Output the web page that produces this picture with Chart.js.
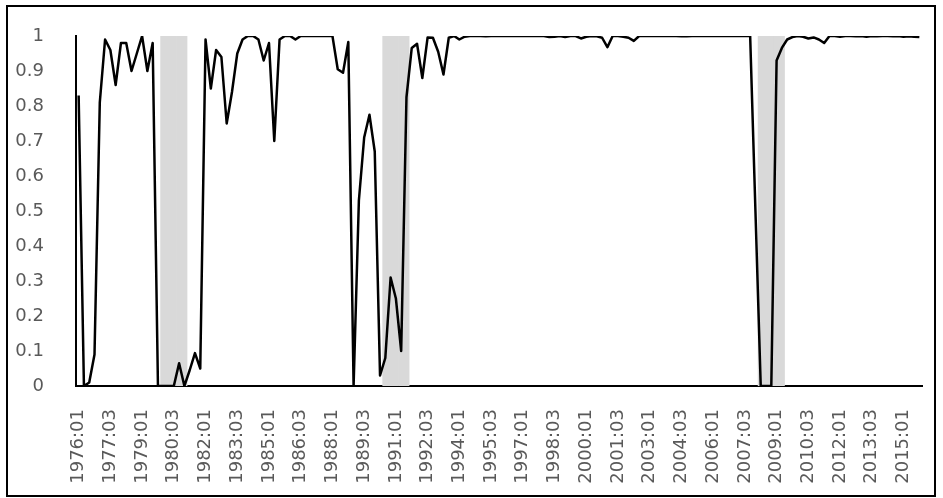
<!DOCTYPE html>
<html>
<head>
  <meta charset="utf-8" />
  <title>Regime probability</title>
  <script src="https://cdn.jsdelivr.net/npm/chart.js"></script>
  <style>
    body {
      margin: 0;
      background: #fff;
    }
  </style>
</head>
<body>
  <canvas id="chart" width="943" height="498"></canvas>
  <script>
    // quarters 1976:01 .. 2015:04
    const quarters = [];
    for (let y = 1976; y <= 2015; y++) {
      for (let q = 1; q <= 4; q++) quarters.push(y + ':0' + q);
    }

    // every 6th quarter gets a label
    const labelStep = 6;

    // shaded periods (first and last quarter)
    const recessions = [
      ['1980:01', '1981:01'],
      ['1990:03', '1991:03'],
      ['2008:02', '2009:02']
    ];

    // probability series
    const prob = [
      0.83, 0, 0.01, 0.09, 0.81, 0.99, 0.96, 0.86,          // 1976-77
      0.98, 0.98, 0.90, 0.95, 1.0, 0.90, 0.98, 0,           // 1978-79
      0, 0, 0, 0.065, 0, 0.045, 0.094, 0.05,                // 1980-81
      0.99, 0.85, 0.96, 0.94, 0.75, 0.84, 0.95, 0.99,       // 1982-83
      1.0, 1.0, 0.99, 0.93, 0.98, 0.70, 0.99, 1.0,          // 1984-85
      1.0, 0.99, 1.0, 1.0, 1.0, 1.0, 1.0, 1.0,              // 1986-87
      1.0, 0.905, 0.895, 0.983, 0, 0.53, 0.71, 0.775,       // 1988-89
      0.67, 0.03, 0.08, 0.31, 0.25, 0.10, 0.825, 0.966,     // 1990-91
      0.978, 0.88, 0.996, 0.995, 0.955, 0.89, 0.995, 1.0,   // 1992-93
      0.99, 0.998, 1.0, 1.0, 1.0, 0.999, 1.0, 1.0,          // 1994-95
      1.0, 1.0, 1.0, 1.0, 1.0, 1.0, 1.0, 1.0,               // 1996-97
      1.0, 0.997, 0.998, 1.0, 0.997, 1.0, 1.0, 0.993,       // 1998-99
      0.998, 1.0, 0.999, 0.995, 0.968, 1.0, 1.0, 0.998,     // 2000-01
      0.995, 0.986, 1.0, 1.0, 1.0, 1.0, 1.0, 1.0,           // 2002-03
      1.0, 1.0, 0.999, 0.999, 1.0, 1.0, 1.0, 1.0,           // 2004-05
      1.0, 1.0, 1.0, 1.0, 1.0, 1.0, 1.0, 1.0,               // 2006-07
      0.5, 0, 0, 0, 0.93, 0.966, 0.99, 0.997,               // 2008-09
      1.0, 0.998, 0.993, 0.996, 0.99, 0.98, 1.0, 1.0,       // 2010-11
      0.998, 1.0, 1.0, 0.999, 1.0, 0.998, 1.0, 0.999,      // 2012-13
      1.0, 1.0, 0.999, 1.0, 0.998, 0.999, 0.998, 0.997      // 2014-15
    ];

    const shade = quarters.map(q =>
      recessions.some(r => q >= r[0] && q <= r[1]) ? 1 : null
    );

    const frame = {
      id: 'frame',
      afterDraw(chart) {
        const ctx = chart.ctx;
        ctx.save();
        ctx.strokeStyle = '#000';
        ctx.lineWidth = 2;
        ctx.strokeRect(7, 6, 928, 490);
        ctx.restore();
      }
    };

    const tickFont = { family: 'DejaVu Sans', size: 18 };

    new Chart(document.getElementById('chart'), {
      type: 'line',
      data: {
        labels: quarters,
        datasets: [
          {
            type: 'bar',
            data: shade,
            backgroundColor: '#d9d9d9',
            borderWidth: 0,
            barPercentage: 1,
            categoryPercentage: 1,
            order: 2
          },
          {
            data: prob,
            borderColor: '#000',
            borderWidth: 2.5,
            borderJoinStyle: 'round',
            pointRadius: 0,
            tension: 0,
            fill: false,
            order: 1
          }
        ]
      },
      options: {
        responsive: false,
        animation: false,
        layout: { padding: { top: 36, right: 21, left: 0, bottom: 0 } },
        plugins: {
          legend: { display: false },
          tooltip: { enabled: false }
        },
        scales: {
          x: {
            offset: true,
            grid: { display: false },
            border: { display: true, color: '#000', width: 2 },
            afterFit: s => {
              s.height = 112;
              s.paddingLeft = 0;
              s.paddingRight = 0;
            },
            ticks: {
              autoSkip: false,
              minRotation: 90,
              maxRotation: 90,
              padding: 15,
              color: '#595959',
              font: tickFont,
              callback: (v, i) => (i % labelStep === 0 ? quarters[i] : '')
            }
          },
          y: {
            min: 0,
            max: 1,
            grid: { display: false },
            border: { display: true, color: '#000', width: 2 },
            afterFit: s => { s.width = 76; },
            ticks: {
              stepSize: 0.1,
              padding: 24,
              color: '#595959',
              font: tickFont,
              callback: v => String(+v.toFixed(1))
            }
          }
        }
      },
      plugins: [frame]
    });
  </script>
</body>
</html>
